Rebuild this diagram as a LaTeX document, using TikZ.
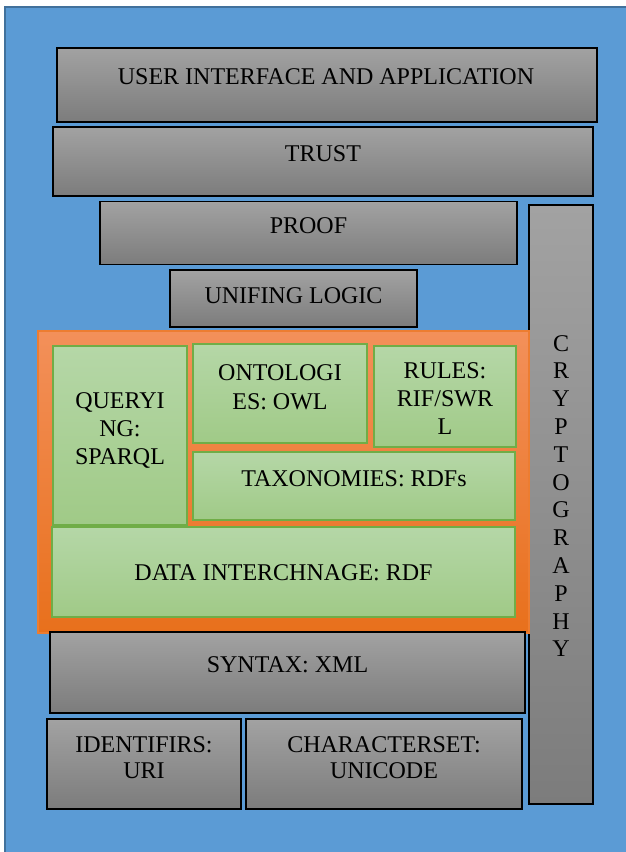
\documentclass[tikz,border=0pt]{standalone}
\usepackage{fontspec}
\setmainfont{Liberation Serif}
\newfontfamily\layerfont{Liberation Serif}
\usepackage{tikz}
\usetikzlibrary{positioning}
\definecolor{bgblue}{HTML}{5B9BD5}
\definecolor{bgedge}{HTML}{41719C}
\definecolor{graytop}{HTML}{A2A2A2}
\definecolor{graybot}{HTML}{7C7C7C}
\definecolor{greentop}{HTML}{B5D7A7}
\definecolor{greenbot}{HTML}{A0CA87}
\definecolor{greenedge}{HTML}{70AD47}
\definecolor{orangetop}{HTML}{F3905A}
\definecolor{orangebot}{HTML}{E8701C}
\definecolor{orangeedge}{HTML}{ED7D31}

\begin{document}
\begin{tikzpicture}[x=1pt, y=-1pt,
	layer/.style={draw=black, line width=1.3pt, top color=graytop, bottom color=graybot, inner sep=0pt},
	sublayer/.style={draw=greenedge, line width=1.3pt, top color=greentop, bottom color=greenbot, inner sep=0pt},
	txt/.style={inner sep=0pt, align=center, font=\layerfont\fontsize{24}{28}\selectfont}]
	\useasboundingbox (0,0) rectangle (625,852);

	% draw background
	\draw[draw=bgedge, line width=1.3pt, fill=bgblue] (5,7) rectangle (627,854);

	% draw top layers
	\node[layer, minimum width=540, minimum height=74] (ui) at (327,85) {};
	\node[layer, minimum width=540, minimum height=69] (trust) at (323,161.5) {};
	\node[layer, minimum width=417, minimum height=63] (proof) at (308.5,233) {};
	\node[layer, minimum width=247, minimum height=57] (logic) at (293.5,298.5) {};
	\node[layer, minimum width=64, minimum height=599] (crypto) at (561,504.5) {};

	% draw orange block
	\draw[draw=orangeedge, line width=1.3pt, top color=orangetop, bottom color=orangebot] (38,331) rectangle (529,633);

	% draw inner layers
	\node[sublayer, minimum width=134, minimum height=179] (query) at (120,435.5) {};
	\node[sublayer, minimum width=174, minimum height=99] (onto) at (280,393.5) {};
	\node[sublayer, minimum width=142, minimum height=101] (rules) at (445,396.5) {};
	\node[sublayer, minimum width=322, minimum height=68] (taxo) at (354,486) {};
	\node[sublayer, minimum width=463, minimum height=90] (data) at (283.5,572) {};

	% draw bottom layers
	\node[layer, minimum width=475, minimum height=81] (syntax) at (287.5,672.5) {};
	\node[layer, minimum width=194, minimum height=90] (ident) at (144,764) {};
	\node[layer, minimum width=276, minimum height=90] (charset) at (384,764) {};

	% draw labels
	\node[txt] (ui-txt) at (326,77) {USER INTERFACE AND APPLICATION};
	\node[txt] (trust-txt) at (323,154) {TRUST};
	\node[txt] (proof-txt) at (308.5,225.5) {PROOF};
	\node[txt] (logic-txt) at (293.5,295.5) {UNIFING LOGIC};
	\node[txt, font=\layerfont\fontsize{24}{27.8}\selectfont] (crypto-txt) at (561,496) {C\\R\\Y\\P\\T\\O\\G\\R\\A\\P\\H\\Y};
	\node[txt] (query-txt) at (120,430) {QUERYI\\NG:\\SPARQL};
	\node[txt, font=\layerfont\fontsize{24}{29}\selectfont] (onto-txt) at (280,387) {ONTOLOGI\\ES: OWL};
	\node[txt] (rules-txt) at (445,399) {RULES:\\RIF/SWR\\L};
	\node[txt] (taxo-txt) at (354,479) {TAXONOMIES: RDFs};
	\node[txt] (data-txt) at (283.5,573) {DATA INTERCHNAGE: RDF};
	\node[txt] (syntax-txt) at (287.5,665) {SYNTAX: XML};
	\node[txt, font=\layerfont\fontsize{24}{26}\selectfont] (ident-txt) at (144,758) {IDENTIFIRS:\\URI};
	\node[txt, font=\layerfont\fontsize{24}{26}\selectfont] (charset-txt) at (384,758) {CHARACTERSET:\\UNICODE};
\end{tikzpicture}
\end{document}
